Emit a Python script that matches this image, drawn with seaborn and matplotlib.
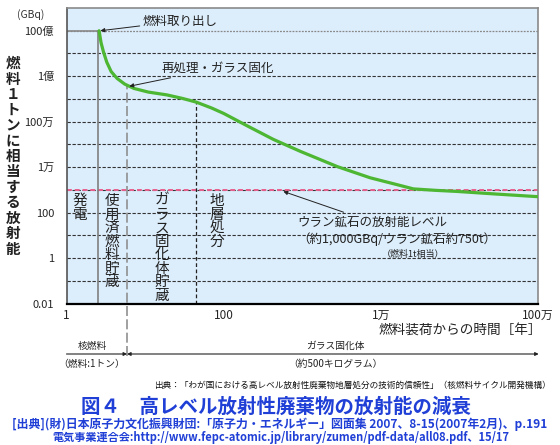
import numpy as np
import pandas as pd
import seaborn as sns
import matplotlib.pyplot as plt

# Données (temps en années, activité en GBq)
years = [2.6, 2.75, 2.95, 3.25, 3.7, 4.4, 5.5, 7.2, 11, 19, 30, 45, 70, 100,
         200, 430, 950, 2800, 7300, 15000, 26000, 50000, 94000, 300000, 1e6]
activity = [1e10, 3e9, 1.2e9, 4.2e8, 1.6e8, 8e7, 4.5e7, 2.9e7, 2.0e7, 1.5e7,
            1.05e7, 7.2e6, 4.0e6, 2.3e6, 6.5e5, 1.65e5, 4.9e4, 1.05e4, 3.4e3,
            1.8e3, 1.1e3, 950, 850, 650, 500]

# bornes des étapes (années) et activité au point de départ des lignes
stage_years = [2.5, 5.9, 45]
stage_tops = [1e10, 3.8e7, 7.2e6]
uranium_level = 1000

ytick_vals = [1e-2, 1, 1e2, 1e4, 1e6, 1e8, 1e10]
ytick_labels = ['0.01', '1', '100', '1万', '100万', '1億', '100億']
xtick_vals = [1, 100, 1e4, 1e6]
xtick_labels = ['1', '100', '1万', '100万']

stage_names = ['発電', '使用済燃料貯蔵', 'ガラス固化体貯蔵', '地層処分']

df = pd.DataFrame({'years': years, 'activity': activity})

sns.set_theme(style='white')
plt.rcParams['font.family'] = ['Noto Sans CJK JP', 'DejaVu Sans']

W, H = 560, 445
fig = plt.figure(figsize=(W / 100, H / 100), dpi=100)


def fx(px):
    return px / W


def fy(py):
    return 1 - py / H


ax = fig.add_axes([fx(66.5), fy(303.5), (538 - 66.5) / W, (303.5 - 8) / H])
ax.set_facecolor('#dcedfb')
ax.set_xscale('log')
ax.set_yscale('log')
ax.set_xlim(1, 1e6)
ax.set_ylim(1e-2, 1e11)

# grille horizontale: une ligne par décade
for k in range(-1, 10):
    ax.axhline(10.0 ** k, color='#333333', lw=0.8, ls=(0, (3, 1.5)), zorder=1)
ax.axhline(1e10, color='#888888', lw=0.9, ls=(0, (1.5, 1)), zorder=1)
ax.plot([1, stage_years[0]], [1e10, 1e10], color='#888888', lw=1.2, zorder=2)

# ligne du minerai d'uranium
ax.axhline(uranium_level, color='#e8608e', lw=1.4, ls=(0, (2.5, 1.5)), zorder=2)

# lignes verticales des étapes
ax.plot([stage_years[0]] * 2, [1e-2, stage_tops[0]], color='#808080', lw=1.2, zorder=2)
ax.plot([stage_years[1]] * 2, [4.7e-5, stage_tops[1]], color='#909090', lw=1.2,
        ls=(0, (6, 2)), zorder=2, clip_on=False)
ax.plot([stage_years[2]] * 2, [1e-2, stage_tops[2]], color='#222222', lw=0.9,
        ls=(0, (3, 2)), zorder=2)

sns.lineplot(data=df, x='years', y='activity', ax=ax, color='#4db733', lw=2.3,
             sort=False, zorder=3)

ax.set_xlabel('')
ax.set_ylabel('')
ax.set_yticks(ytick_vals)
ax.set_yticklabels(ytick_labels, fontsize=8)
ax.set_xticks(xtick_vals)
ax.set_xticklabels(xtick_labels, fontsize=8.5)
ax.minorticks_off()
ax.tick_params(axis='y', length=0, pad=9)
ax.tick_params(axis='x', direction='in', length=4, color='#555555', pad=4)
for side in ['top', 'right']:
    ax.spines[side].set_color('#8a8a8a')
    ax.spines[side].set_linewidth(1.2)
ax.spines['left'].set_color('#555555')
ax.spines['left'].set_linewidth(1.2)
ax.spines['bottom'].set_color('black')
ax.spines['bottom'].set_linewidth(1.6)

# annotations
arrow = dict(arrowstyle='-|>', color='#222222', lw=0.7, mutation_scale=6,
             shrinkA=0, shrinkB=0)
ax.annotate('燃料取り出し', xy=(2.7, 1e10), xytext=(143, H - 21),
            textcoords='figure pixels', fontsize=9, ha='left', va='center',
            color='#222222', arrowprops=arrow)
ax.annotate('再処理・ガラス固化', xy=(6.3, 3.6e7), xytext=(162, H - 68),
            textcoords='figure pixels', fontsize=9, ha='left', va='center',
            color='#222222', arrowprops=arrow)
ax.annotate('ウラン鉱石の放射能レベル', xy=(575, uranium_level * 0.85),
            xytext=(297, H - 222), textcoords='figure pixels', fontsize=9,
            ha='left', va='center', color='#222222', arrowprops=arrow)
fig.text(fx(297), fy(239), '（約1,000GBq/ウラン鉱石約750t）', fontsize=9,
         ha='left', va='center', color='#222222')
fig.text(fx(413), fy(254), '（燃料1t相当）', fontsize=6.5, ha='center',
         va='center', color='#222222')

# textes verticaux des étapes
stage_x = [80, 112, 162, 217]
for name, px in zip(stage_names, stage_x):
    fig.text(fx(px), fy(194), '\n'.join(name), fontsize=10.5, ha='center',
             va='top', linespacing=0.96, color='#222222')

fig.text(fx(31), fy(15), '(GBq)', fontsize=7.5, ha='center', va='center',
         color='#333333')
fig.text(fx(13), fy(55), '\n'.join('燃料１トンに相当する放射能'), fontsize=10.5,
         ha='center', va='top', linespacing=0.96, color='#222222',
         fontweight='bold')
fig.text(fx(542), fy(330), '燃料装荷からの時間［年］', fontsize=9.8,
         ha='right', va='center', color='#222222')

# flèches du bas
arr2 = dict(arrowstyle='-|>', color='#222222', lw=0.8, mutation_scale=5,
            shrinkA=0, shrinkB=0)
arr3 = dict(arrowstyle='<|-|>', color='#222222', lw=0.8, mutation_scale=5,
            shrinkA=0, shrinkB=0)
ax.annotate('', xy=(stage_years[1], fy(354)), xytext=(1, fy(354)),
            xycoords=('data', 'figure fraction'),
            textcoords=('data', 'figure fraction'), arrowprops=arr2,
            annotation_clip=False)
ax.annotate('', xy=(1.02e6, fy(354)), xytext=(stage_years[1], fy(354)),
            xycoords=('data', 'figure fraction'),
            textcoords=('data', 'figure fraction'), arrowprops=arr3,
            annotation_clip=False)
fig.text(fx(92), fy(346), '核燃料', fontsize=7, ha='center', va='center',
         color='#222222')
fig.text(fx(92), fy(364), '（燃料:1トン）', fontsize=7, ha='center',
         va='center', color='#222222')
fig.text(fx(335), fy(346), 'ガラス固化体', fontsize=7, ha='center',
         va='center', color='#222222')
fig.text(fx(335), fy(364), '（約500キログラム）', fontsize=7, ha='center',
         va='center', color='#222222')

fig.text(fx(551), fy(385),
         '出典：「わが国における高レベル放射性廃棄物地層処分の技術的信頼性」（核燃料サイクル開発機構）',
         fontsize=6.2, ha='right', va='center', color='#111111')

blue = '#1f3fd6'
fig.text(fx(276), fy(407), '図４　高レベル放射性廃棄物の放射能の減衰',
         fontsize=14, ha='center', va='center', color=blue, fontweight='bold')
fig.text(fx(280), fy(424),
         '[出典](財)日本原子力文化振興財団:「原子力・エネルギー」図面集 2007、8-15(2007年2月)、p.191',
         fontsize=8.6, ha='center', va='center', color=blue, fontweight='bold')
fig.text(fx(281), fy(438),
         '電気事業連合会:http://www.fepc-atomic.jp/library/zumen/pdf-data/all08.pdf、15/17',
         fontsize=8, ha='center', va='center', color=blue, fontweight='bold')

fig.savefig('out.png', dpi=100)
